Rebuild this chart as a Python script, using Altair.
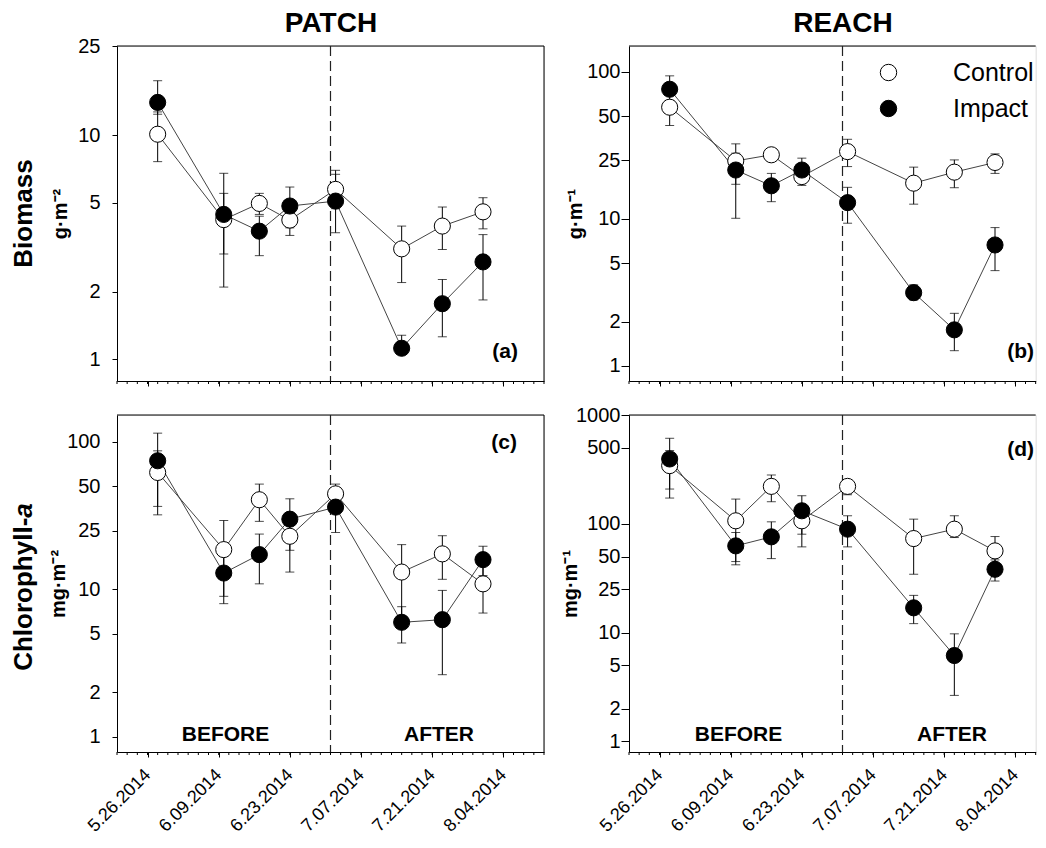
import altair as alt
import pandas as pd

FONT = "Liberation Sans"

# sampling dates (shared by all panels)
DATES = ["2014-05-28", "2014-06-10", "2014-06-17", "2014-06-23",
         "2014-07-02", "2014-07-15", "2014-07-23", "2014-07-31"]
SERIES = ["Control", "Impact"]

# (a) Biomass, PATCH (g m-2)
A_CTRL = [10.1, 4.2, 4.96, 4.18, 5.73, 3.11, 3.93, 4.55]
A_CTRL_LO = [7.62, 2.95, 4.43, 3.57, 4.7, 2.20, 3.09, 3.82]
A_CTRL_HI = [12.7, 5.50, 5.50, 4.9, 6.97, 3.93, 4.78, 5.26]
A_IMP = [14.0, 4.43, 3.73, 4.83, 5.08, 1.12, 1.77, 2.72]
A_IMP_LO = [12.4, 2.10, 2.90, 3.86, 3.67, 1.06, 1.26, 1.84]
A_IMP_HI = [17.5, 6.76, 4.35, 5.87, 6.69, 1.28, 2.27, 3.60]

# (b) Biomass, REACH (g m-1)
B_CTRL = [57.5, 24.8, 27.3, 19.4, 28.7, 17.5, 20.8, 24.2]
B_CTRL_LO = [43.2, 17.2, 25.4, 16.9, 22.7, 12.6, 16.3, 20.4]
B_CTRL_HI = [64.0, 28.0, 29.4, 22.0, 34.8, 22.5, 25.2, 27.7]
B_IMP = [76.2, 21.5, 16.8, 21.5, 12.9, 3.15, 1.76, 6.65]
B_IMP_LO = [58.7, 10.1, 13.1, 18.5, 9.35, 2.81, 1.27, 4.45]
B_IMP_HI = [94.0, 32.4, 20.4, 25.9, 16.4, 3.56, 2.28, 8.73]

# (c) Chlorophyll-a, PATCH (mg m-2)
C_CTRL = [62.0, 18.6, 40.5, 22.9, 44.4, 13.1, 17.4, 10.9]
C_CTRL_LO = [32.0, 8.0, 28.9, 13.1, 38.0, 6.1, 11.7, 6.91]
C_CTRL_HI = [86.9, 29.3, 51.7, 32.7, 51.7, 20.1, 23.1, 14.9]
C_IMP = [74.4, 12.9, 17.2, 29.9, 36.1, 5.98, 6.23, 15.9]
C_IMP_LO = [36.5, 8.97, 10.9, 18.4, 24.3, 4.33, 2.64, 12.4]
C_IMP_HI = [114.5, 16.8, 23.7, 41.1, 44.0, 7.63, 9.84, 19.6]

# (d) Chlorophyll-a, REACH (mg m-1)
D_CTRL = [342.6, 106.6, 220.8, 106.6, 220.8, 73.2, 89.3, 56.4]
D_CTRL_LO = [172.5, 45.0, 159.6, 61.4, 185.0, 34.4, 74.8, 40.0]
D_CTRL_HI = [471.0, 168.8, 281.0, 151.0, 255.0, 110.4, 118.6, 76.4]
D_IMP = [394.5, 62.7, 75.9, 131.8, 89.3, 16.9, 6.16, 38.2]
D_IMP_LO = [208.7, 42.0, 47.9, 80.3, 61.4, 12.1, 2.65, 29.8]
D_IMP_HI = [611.0, 83.2, 104.3, 181.2, 118.6, 22.0, 9.75, 46.6]

# axis ticks
MAJOR_TICKS = [(2014, 5, 26), (2014, 6, 9), (2014, 6, 23), (2014, 7, 7), (2014, 7, 21), (2014, 8, 4)]
MINOR_TICKS = [d.strftime("%Y-%m-%dT00:00:00") for d in pd.date_range("2014-05-20", "2014-08-12", freq="2D")]
BREAK_DATE = ["2014-07-01T00:00:00"]
Y_TICKS_A = [1, 2, 5, 10, 25]
Y_TICKS_B = [1, 2, 5, 10, 25, 50, 100]
Y_TICKS_C = [1, 2, 5, 10, 25, 50, 100]
Y_TICKS_D = [1, 2, 5, 10, 25, 50, 100, 500, 1000]

LEGEND = alt.Legend(title=None, orient="none", legendX=759, legendY=14, padding=0,
                    labelFontSize=25, labelFont=FONT, labelColor="black",
                    symbolSize=270, symbolType="circle", symbolStrokeColor="black",
                    symbolStrokeWidth=1, symbolOpacity=1, labelOffset=52, rowPadding=10)


def panel_df(ctrl, ctrl_lo, ctrl_hi, imp, imp_lo, imp_hi):
    rows = []
    for s, m, lo, hi in [("Control", ctrl, ctrl_lo, ctrl_hi), ("Impact", imp, imp_lo, imp_hi)]:
        for d, v, l, h in zip(DATES, m, lo, hi):
            rows.append({"date": d + "T00:00:00", "series": s, "value": v, "lo": l, "hi": h})
    return pd.DataFrame(rows)


def one():
    return alt.Chart(pd.DataFrame({"k": [0]}))


def text_mark(txt, x, y, size, align="center", baseline="alphabetic", angle=0, weight="bold", style="normal"):
    kw = dict(text=txt, fontSize=size, fontWeight=weight, align=align, baseline=baseline,
              font=FONT, color="black", fontStyle=style)
    if angle:
        kw["angle"] = angle
    return one().mark_text(**kw).encode(x=alt.value(x), y=alt.value(y))


def make_panel(df, W, H, x_end, ydom, yticks, ytitle, ytitle_x, ytick, ylabpad,
               bottom, right_border, extras):
    xscale = alt.Scale(domain=[alt.DateTime(year=2014, month=5, date=20), x_end])
    xaxis = alt.Axis(values=[alt.DateTime(year=y, month=m, date=d) for y, m, d in MAJOR_TICKS],
                     format="%-m.%d.%Y", labels=bottom, labelAngle=-45, labelAlign="right",
                     labelBaseline="middle", labelFontSize=18, labelFont=FONT, labelColor="black",
                     labelPadding=15, labelFlush=False, labelOverlap=False, tickSize=5,
                     tickColor="black", domainColor="black", grid=False, title=None)
    yscale = alt.Scale(type="log", domain=ydom)
    yaxis = alt.Axis(values=yticks, format="d", title=ytitle, titleX=ytitle_x, titleY=H / 2,
                     titleAngle=270, titleAlign="center", titleBaseline="bottom",
                     titleFontSize=20, titleFontWeight="bold", titleFont=FONT, titleColor="black",
                     tickSize=ytick, labelPadding=ylabpad, labelFontSize=20, labelFont=FONT,
                     labelColor="black", tickColor="black", domainColor="black", grid=False,
                     labelOverlap=False)
    X = alt.X("date:T", scale=xscale, axis=xaxis)
    base = alt.Chart(df)

    layers = []
    layers.append(one().mark_rule(color="black", strokeWidth=1).encode(
        x=alt.value(0), x2=alt.value(W), y=alt.value(0)))
    if right_border:
        layers.append(one().mark_rule(color="black", strokeWidth=1).encode(
            x=alt.value(W), y=alt.value(0), y2=alt.value(H)))
    minor = pd.DataFrame({"t": MINOR_TICKS})
    layers.append(alt.Chart(minor).mark_rule(color="black", strokeWidth=1).encode(
        x=alt.X("t:T", scale=xscale, axis=xaxis), y=alt.value(H), y2=alt.value(H + 3)))
    layers.append(alt.Chart(pd.DataFrame({"t": BREAK_DATE})).mark_rule(
        color="#222222", strokeWidth=1.2, strokeDash=[10, 5]).encode(
        x=alt.X("t:T", scale=xscale, axis=xaxis)))
    layers.append(base.mark_line(color="#444444", strokeWidth=1).encode(
        x=X, y=alt.Y("value:Q", scale=yscale, axis=yaxis), detail="series:N"))
    layers.append(base.mark_rule(color="black", strokeWidth=1).encode(
        x=X, y=alt.Y("lo:Q", scale=yscale, axis=yaxis), y2="hi:Q"))
    for f in ["lo", "hi"]:
        layers.append(base.mark_tick(color="black", thickness=1, size=9, orient="horizontal").encode(
            x=X, y=alt.Y(f + ":Q", scale=yscale, axis=yaxis)))
    layers.append(base.mark_point(filled=True, size=260, stroke="black", strokeWidth=1, opacity=1).encode(
        x=X, y=alt.Y("value:Q", scale=yscale, axis=yaxis),
        fill=alt.Fill("series:N", scale=alt.Scale(domain=SERIES, range=["white", "black"]), legend=LEGEND),
        order=alt.Order("series:N")))
    layers.extend(extras)
    return alt.layer(*layers).properties(width=W, height=H)


WL, WR = 427, 406.67
HT, HB = 335, 337
END_L = alt.DateTime(year=2014, month=8, date=12)
END_R = alt.DateTime(year=2014, month=8, date=8)

pa = make_panel(
    panel_df(A_CTRL, A_CTRL_LO, A_CTRL_HI, A_IMP, A_IMP_LO, A_IMP_HI), WL, HT, END_L,
    [0.8, 25], Y_TICKS_A, "g·m⁻²", -47, 5, 12, False, True,
    [text_mark("(a)", 401, 306, 21, align="right", baseline="middle"),
     text_mark("Biomass", -85, HT / 2, 26, angle=270),
     text_mark("PATCH", 214, -14, 28)])

pb = make_panel(
    panel_df(B_CTRL, B_CTRL_LO, B_CTRL_HI, B_IMP, B_IMP_LO, B_IMP_HI), WR, HT, END_R,
    [0.79, 150], Y_TICKS_B, "g·m⁻¹", -44, 8, 1, False, False,
    [text_mark("(b)", 405, 306, 21, align="right", baseline="middle"),
     text_mark("REACH", 214, -14, 28)])

yc = 172
pc = make_panel(
    panel_df(C_CTRL, C_CTRL_LO, C_CTRL_HI, C_IMP, C_IMP_LO, C_IMP_HI), WL, HB, END_L,
    [0.79, 152], Y_TICKS_C, "mg·m⁻²", -49, 5, 12, True, True,
    [text_mark("(c)", 400, 28, 21, align="right", baseline="middle"),
     text_mark("BEFORE", 108.5, 326, 21),
     text_mark("AFTER", 322, 326, 21),
     text_mark("Chlorophyll-", -85, yc + 83.8, 26, align="left", angle=270),
     text_mark("a", -85, yc + 83.8 - 153.1, 26, align="left", angle=270, style="italic")])

pd_ = make_panel(
    panel_df(D_CTRL, D_CTRL_LO, D_CTRL_HI, D_IMP, D_IMP_LO, D_IMP_HI), WR, HB, END_R,
    [0.8, 1000], Y_TICKS_D, "mg·m⁻¹", -49, 8, 1, True, False,
    [text_mark("(d)", 405, 35, 21, align="right", baseline="middle"),
     text_mark("BEFORE", 109.5, 326, 21),
     text_mark("AFTER", 323, 326, 21)])

chart = alt.concat(pa, pb, pc, pd_, columns=2, spacing={"row": 34, "column": 85}, bounds="flush").resolve_scale(
    fill="shared").resolve_legend(fill="shared").properties(
    autosize=alt.AutoSizeParams(type="none"),
    padding={"left": 109, "top": 38, "right": 921, "bottom": 790}).configure_view(stroke=None).configure(
    font=FONT, background="white")

chart.save("out.html", embed_options={"renderer": "svg", "actions": False})
